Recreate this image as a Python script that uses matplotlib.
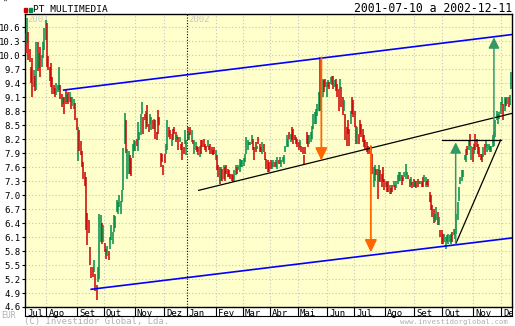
import numpy as np
import pandas as pd
import matplotlib
matplotlib.use('Agg')
import matplotlib.pyplot as plt
from matplotlib.patches import Rectangle
from matplotlib.lines import Line2D
from matplotlib.transforms import ScaledTranslation, Bbox, TransformedBbox

plt.rcParams['font.family'] = 'DejaVu Sans Mono'

# pregoes de 2001-07-10 a 2002-12-11 (sem feriados da bolsa)
feriados = ['2001-12-24', '2001-12-25', '2001-12-26', '2001-12-31', '2002-01-01',
            '2002-03-29', '2002-04-01', '2002-05-01']
dias = pd.bdate_range('2001-07-10', '2002-12-11')
dias = dias[~dias.isin(pd.to_datetime(feriados))]

minimos = [
    10.04, 10.26, 9.89, 9.85, 9.40, 9.10, 9.31, 9.24, 9.25, 9.65,
    9.72, 9.53, 9.75, 9.93, 10.10, 10.32, 9.75, 9.68, 9.45, 9.32,
    9.17, 9.17, 9.10, 9.15, 9.20, 9.25, 9.05, 8.88, 8.95, 8.74,
    8.95, 9.00, 8.95, 9.00, 8.85, 8.90, 8.85, 8.60, 8.40, 7.73,
    7.95, 7.85, 7.60, 7.35, 7.20, 6.24, 5.93, 6.19, 5.50, 5.22,
    5.25, 5.35, 4.95, 4.75, 5.14, 5.20, 6.00, 5.95, 6.00, 5.78,
    5.63, 5.70, 5.60, 5.85, 6.04, 5.95, 6.20, 6.30, 6.64, 6.60,
    6.74, 6.60, 6.85, 7.10, 8.10, 7.90, 7.35, 7.45, 7.45, 7.40,
    7.80, 7.95, 7.95, 8.05, 7.95, 8.17, 8.28, 8.73, 8.31, 8.60,
    8.42, 8.46, 8.35, 8.53, 8.39, 8.42, 8.42, 8.21, 8.17, 8.30,
    8.50, 7.60, 7.71, 7.42, 7.68, 7.89, 7.96, 8.24, 8.21, 8.06,
    8.17, 8.31, 8.14, 8.21, 7.96, 8.14, 7.96, 7.74, 7.89, 8.10,
    7.85, 8.17, 8.17, 8.28, 8.14, 8.10, 7.89, 7.96, 7.92, 7.85,
    7.81, 7.89, 8.03, 8.03, 7.96, 7.92, 8.03, 7.96, 7.89, 7.89,
    7.85, 7.89, 7.74, 7.53, 7.39, 7.24, 7.31, 7.31, 7.35, 7.31,
    7.46, 7.39, 7.39, 7.35, 7.31, 7.28, 7.31, 7.42, 7.46, 7.53,
    7.49, 7.60, 7.60, 7.62, 7.71, 7.89, 7.96, 8.08, 8.08, 8.10,
    7.96, 7.74, 7.92, 7.99, 8.10, 7.92, 7.92, 7.89, 7.92, 7.74,
    7.56, 7.49, 7.49, 7.56, 7.56, 7.60, 7.60, 7.60, 7.56, 7.67,
    7.67, 7.60, 7.71, 7.67, 7.92, 8.03, 8.03, 8.21, 8.14, 8.17,
    8.10, 8.17, 8.10, 8.03, 7.96, 8.03, 7.92, 7.89, 7.67, 7.89,
    8.10, 8.03, 8.10, 8.14, 8.21, 8.42, 8.53, 8.53, 8.70, 8.80,
    8.81, 8.81, 9.10, 9.20, 9.31, 9.10, 9.31, 9.28, 9.38, 9.35,
    9.28, 9.31, 9.24, 9.10, 8.81, 9.28, 8.88, 8.71, 8.81, 8.17,
    8.06, 8.31, 8.06, 8.53, 8.74, 8.67, 8.46, 8.10, 8.10, 8.10,
    8.31, 8.24, 8.14, 8.03, 7.96, 7.92, 7.89, 7.89, 7.85, 7.46,
    7.17, 7.31, 7.42, 6.92, 7.31, 7.28, 7.17, 7.28, 7.10, 7.17,
    7.06, 7.06, 7.03, 7.03, 7.06, 7.17, 7.10, 7.14, 7.24, 7.31,
    7.31, 7.21, 7.31, 7.39, 7.35, 7.42, 7.35, 7.17, 7.21, 7.14,
    7.17, 7.17, 7.14, 7.17, 7.24, 7.24, 7.17, 7.17, 7.28, 7.17,
    7.21, 7.17, 6.85, 6.67, 6.53, 6.39, 6.42, 6.46, 6.35, 6.35,
    6.10, 5.96, 5.96, 5.99, 5.85, 5.99, 5.96, 5.99, 5.96, 5.99,
    6.14, 6.06, 6.17, 6.46, 6.88, 7.24, 7.31, 7.39, 7.74, 7.71,
    7.85, 7.96, 8.06, 7.74, 7.71, 7.89, 7.96, 8.03, 7.89, 7.81,
    7.74, 7.71, 7.81, 7.85, 8.03, 7.92, 7.96, 7.92, 7.92, 8.03,
    8.06, 8.24, 8.60, 8.53, 8.64, 8.74, 8.92, 8.60, 8.81, 8.90,
    8.96, 8.88, 8.92, 9.28,
]

maximos = [
    10.47, 10.79, 10.49, 10.12, 9.75, 9.93, 9.68, 9.56, 10.29, 10.29,
    10.05, 10.17, 10.00, 10.29, 10.57, 10.75, 10.68, 9.97, 9.75, 9.82,
    9.53, 9.35, 9.30, 9.40, 9.35, 9.75, 9.35, 9.17, 9.10, 9.10,
    9.25, 9.17, 9.20, 9.20, 9.10, 9.10, 9.05, 8.98, 8.65, 8.46,
    8.39, 8.15, 7.95, 7.70, 7.50, 7.39, 6.61, 6.46, 5.89, 5.46,
    5.45, 5.61, 5.30, 5.07, 5.46, 6.60, 6.57, 6.40, 6.35, 5.97,
    5.85, 5.90, 5.80, 6.10, 6.36, 6.20, 6.57, 6.55, 6.89, 6.85,
    7.00, 6.88, 7.10, 8.00, 8.75, 8.60, 7.98, 7.95, 7.85, 7.80,
    8.10, 8.17, 8.15, 8.20, 8.56, 8.35, 8.74, 8.99, 8.67, 8.74,
    8.81, 8.92, 8.53, 8.74, 8.67, 8.60, 8.62, 8.60, 8.35, 8.82,
    8.67, 7.91, 7.89, 7.64, 7.89, 8.10, 8.60, 8.46, 8.39, 8.31,
    8.42, 8.46, 8.35, 8.28, 8.24, 8.24, 8.10, 8.14, 8.03, 8.39,
    8.17, 8.46, 8.35, 8.46, 8.39, 8.17, 8.17, 8.14, 8.06, 8.03,
    8.06, 8.17, 8.17, 8.21, 8.10, 8.06, 8.17, 8.06, 8.10, 8.03,
    7.96, 8.03, 7.96, 7.85, 7.64, 7.60, 7.60, 7.56, 7.64, 7.60,
    7.64, 7.56, 7.53, 7.46, 7.46, 7.42, 7.53, 7.64, 7.60, 7.64,
    7.78, 7.74, 7.74, 7.80, 7.89, 8.24, 8.17, 8.14, 8.14, 8.28,
    8.21, 8.03, 8.14, 8.06, 8.24, 8.10, 8.03, 8.14, 8.10, 7.92,
    7.78, 7.74, 7.71, 7.74, 7.71, 7.74, 7.71, 7.74, 7.81, 7.74,
    7.81, 7.74, 7.81, 7.85, 8.06, 8.28, 8.21, 8.35, 8.31, 8.46,
    8.42, 8.28, 8.25, 8.21, 8.14, 8.17, 8.06, 8.03, 7.85, 8.03,
    8.35, 8.28, 8.28, 8.35, 8.49, 8.74, 8.78, 8.85, 8.95, 9.20,
    9.96, 9.10, 9.49, 9.46, 9.49, 9.42, 9.46, 9.42, 9.53, 9.56,
    9.56, 9.46, 9.49, 9.38, 9.28, 9.49, 9.31, 9.10, 9.03, 8.74,
    8.46, 8.60, 8.42, 8.81, 9.10, 9.03, 8.81, 8.49, 8.46, 8.31,
    8.60, 8.53, 8.42, 8.28, 8.17, 8.14, 8.06, 8.03, 8.06, 7.89,
    7.60, 7.64, 7.56, 7.56, 7.64, 7.53, 7.46, 7.60, 7.35, 7.31,
    7.28, 7.31, 7.21, 7.14, 7.21, 7.31, 7.21, 7.31, 7.42, 7.49,
    7.49, 7.42, 7.39, 7.49, 7.67, 7.49, 7.42, 7.35, 7.39, 7.28,
    7.35, 7.31, 7.31, 7.35, 7.31, 7.31, 7.31, 7.39, 7.42, 7.39,
    7.31, 7.35, 7.06, 6.99, 6.78, 6.71, 6.60, 6.74, 6.64, 6.53,
    6.24, 6.24, 6.17, 6.17, 6.10, 6.14, 6.17, 6.14, 6.17, 6.21,
    6.28, 6.28, 6.60, 6.85, 7.17, 7.39, 7.53, 7.53, 7.85, 7.99,
    8.06, 8.17, 8.31, 8.06, 8.03, 8.10, 8.31, 8.21, 8.10, 8.03,
    7.89, 7.89, 8.03, 8.10, 8.17, 8.10, 8.10, 8.06, 8.06, 8.28,
    8.35, 8.60, 8.81, 8.74, 8.78, 8.99, 9.10, 8.96, 9.10, 9.07,
    9.10, 9.10, 9.14, 9.64,
]

# r = sessao em baixa, g = sessao em alta
sentido = ''.join([
    "rgrrrrgrgr", "grggggrrrr", "rrrgggrrgr", "rgrgrggrrg", "rrrrrrrrrr",
    "rgrrgggrgr", "rgrggggggg", "gggggrggrr", "gggrggggrr", "grrggrgrrr",
    "rrrrrggrrg", "rrrgrgrrrg", "grgrgrggrr", "grrrrrgrrr", "rrgrrrgrgr",
    "rrrrrrggrg", "gggggggggg", "rrrgrrrgrr", "rrrrggrggr", "gggggggrgr",
    "rrrrrgrrrr", "rrgggggggg", "rggrrggrgg", "rgrrrgrrgr", "rrrgrrrrgr",
    "rrrrrrrrrr", "ggrrgrrrrg", "rrgrrgrggg", "grrgggrrgr", "rgrrggrrgg",
    "rrrrrrggrg", "rrrggggggr", "gggggggggg", "rgrgrgrrrr", "rrgrgggggg",
    "gggggggrgr", "grgg",
])

meses = ['Jul', 'Ago', 'Set', 'Out', 'Nov', 'Dez', 'Jan', 'Fev', 'Mar', 'Abr',
         'Mai', 'Jun', 'Jul', 'Ago', 'Set', 'Out', 'Nov', 'Dez']
escala = np.round(np.arange(4.6, 10.61, 0.3), 1)

# linhas desenhadas no grafico: (indice do pregao, cotacao)
canal_sup = [(28.4, 9.25), (363.5, 10.44)]
canal_inf = [(49.0, 4.98), (363.5, 6.08)]
suporte = [(129.3, 7.10), (363.5, 8.75)]
resistencia = [(311.0, 8.18), (355.0, 8.18)]
triangulo = [(321.4, 5.95), (355.0, 8.18)]
setas_laranja = [(221.0, 9.95, 7.74), (258.0, 8.05, 5.77)]
setas_verdes = [(321.4, 5.95, 8.13), (350.0, 8.20, 10.38)]

assert len(minimos) == len(maximos) == len(sentido) == len(dias)

W, H = 515, 326
fig = plt.figure(figsize=(W / 100, H / 100), dpi=100)
ax = fig.add_axes([25 / W, 1 - 307 / H, 487 / W, 293 / H])
ax.set_facecolor('#ffffcc')
n = len(dias)
x = np.arange(n)
ax.set_xlim(-0.5, n - 0.5)
ax.set_ylim(4.6, 10.88)


def fpx(px, py):
    return px / W, 1 - py / H


# grelha
for v in escala:
    ax.axhline(v, color='#c4c4c4', lw=0.8, ls=(0, (1, 2)), zorder=0)
mes = np.asarray(dias.month)
inicio = np.concatenate([[0], np.where(mes[1:] != mes[:-1])[0] + 1])
pos_mes = inicio - 0.5
pos_jan = pos_mes[6]
for p in pos_mes[1:]:
    if p == pos_jan:
        ax.axvline(p, color='black', lw=0.8, ls=(0, (1, 1.5)), zorder=1)
    else:
        ax.axvline(p, color='#c4c4c4', lw=0.8, ls=(0, (1, 2)), zorder=0)

ax.text(1, 10.86, '2001', color='#c8c8c8', fontsize=6.5, va='top', ha='left')
ax.text(pos_jan + 1, 10.86, '2002', color='#c8c8c8', fontsize=6.5, va='top', ha='left')

# barras diarias
cores = ['#cc0000' if s == 'r' else '#008c46' for s in sentido]
ax.vlines(x, minimos, maximos, colors=cores, lw=1.1, zorder=3)

# canal e linhas de tendencia
for seg in (canal_sup, canal_inf):
    ax.plot([seg[0][0], seg[1][0]], [seg[0][1], seg[1][1]], color='#0000ff', lw=1.2, zorder=4)
for seg in (suporte, resistencia, triangulo):
    ax.plot([seg[0][0], seg[1][0]], [seg[0][1], seg[1][1]], color='black', lw=0.9, zorder=4)

for xs, y0, y1 in setas_laranja:
    ax.annotate('', xy=(xs, y1), xytext=(xs, y0),
                arrowprops=dict(arrowstyle='-|>,head_length=0.75,head_width=0.36',
                                color='#ff6600', lw=1.3, shrinkA=0, shrinkB=0,
                                mutation_scale=10), zorder=5)
for xs, y0, y1 in setas_verdes:
    ax.annotate('', xy=(xs, y1), xytext=(xs, y0),
                arrowprops=dict(arrowstyle='-|>,head_length=0.65,head_width=0.33',
                                color='#339966', lw=1.1, shrinkA=0, shrinkB=0,
                                mutation_scale=10), zorder=5)

for s in ax.spines.values():
    s.set_color('black')
    s.set_linewidth(1.0)

ax.set_yticks(escala)
ax.set_yticklabels(['%.1f' % v for v in escala], fontsize=6.5)
ax.tick_params(axis='y', length=2.2, width=0.8, pad=1)

ax.set_xticks(list(pos_mes) + [n - 0.5])
ax.tick_params(axis='x', length=6.3, width=0.8, labelbottom=False)

desvio = ScaledTranslation(2 / 100, -1.5 / 100, fig.dpi_scale_trans)
corte = TransformedBbox(Bbox([[0, 0], [512 / W, 1]]), fig.transFigure)
for p, m in zip(pos_mes, meses):
    t = ax.text(p, 0, m, transform=ax.get_xaxis_transform() + desvio,
                ha='left', va='top', fontsize=6.5)
    t.set_clip_path(None)
    t.set_clip_box(corte)
    t.set_clip_on(True)

fig.add_artist(Line2D([25 / W, 512 / W], [1 - 315.5 / H] * 2, transform=fig.transFigure,
                      color='black', lw=0.8))

# cabecalho
fig.add_artist(Rectangle(fpx(24, 11.5), 3 / W, 3.5 / H, color='#cc0000', transform=fig.transFigure))
fig.add_artist(Rectangle(fpx(28.5, 11.5), 3 / W, 3.5 / H, color='#008c46', transform=fig.transFigure))
fig.text(*fpx(33, 12), 'PT MULTIMEDIA', fontsize=6.8, va='baseline', ha='left')
fig.text(*fpx(512, 11.5), '2001-07-10 a 2002-12-11', fontsize=8.3, va='baseline', ha='right')
fig.text(*fpx(3, -1), '"', fontsize=6, va='top', ha='left')

# rodape
fig.text(*fpx(1, 318.5), 'EUR', fontsize=5.8, color='#b0b0b0', va='baseline', ha='left')
fig.text(*fpx(24, 324), '(C) Investidor Global, Lda.', fontsize=6.5, color='#b0b0b0',
         va='baseline', ha='left')
fig.text(*fpx(508, 324), 'www.investidorglobal.com', fontsize=5.3, color='#b0b0b0',
         va='baseline', ha='right')

fig.savefig('out.png', dpi=100)
